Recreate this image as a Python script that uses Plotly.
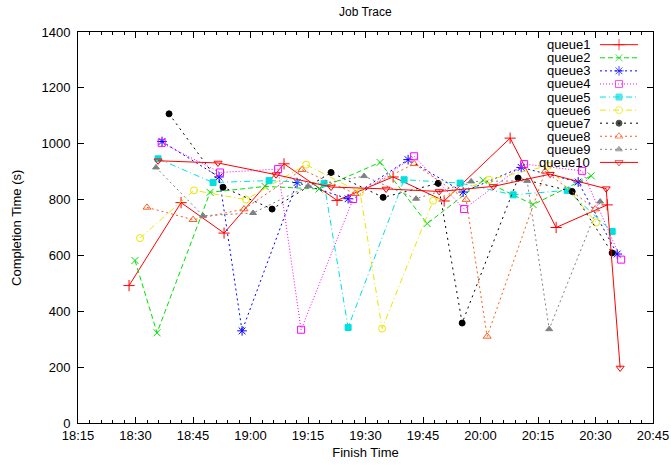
import plotly.graph_objects as go

DAY = "2024-01-01 "

series_names = ["queue1", "queue2", "queue3", "queue4", "queue5",
                "queue6", "queue7", "queue8", "queue9", "queue10"]

q1_t = ["18:28:19", "18:41:53", "18:53:06", "19:08:45", "19:22:35", "19:37:12", "19:50:31", "20:07:44", "20:19:44", "20:33:03"]
q1_v = [492, 789, 680, 928, 797, 881, 795, 1020, 700, 781]

q2_t = ["18:29:52", "18:35:37", "18:49:27", "19:03:48", "19:17:53", "19:33:48", "19:46:05", "20:00:41", "20:13:44", "20:28:52"]
q2_v = [582, 323, 826, 847, 838, 933, 714, 869, 782, 885]

q3_t = ["18:36:55", "18:51:48", "18:57:48", "19:12:09", "19:25:28", "19:41:07", "19:55:28", "20:10:37", "20:25:29", "20:35:40"]
q3_v = [1008, 881, 330, 861, 803, 943, 827, 915, 863, 605]

q4_t = ["18:36:50", "18:52:03", "19:07:12", "19:13:12", "19:26:46", "19:42:41", "19:55:44", "20:11:23", "20:26:31", "20:36:42"]
q4_v = [1003, 897, 909, 334, 802, 955, 766, 927, 903, 585]

q5_t = ["18:35:53", "18:50:14", "19:04:51", "19:19:12", "19:25:28", "19:40:04", "19:54:41", "20:08:31", "20:22:37", "20:34:21"]
q5_v = [946, 861, 868, 858, 342, 871, 859, 817, 833, 686]

q6_t = ["18:31:11", "18:45:16", "18:58:50", "19:14:30", "19:28:35", "19:34:20", "19:47:38", "20:02:15", "20:17:39", "20:30:11"]
q6_v = [662, 833, 800, 925, 826, 338, 796, 871, 921, 718]

q7_t = ["18:38:45", "18:52:50", "19:05:38", "19:21:01", "19:34:36", "19:48:57", "19:55:13", "20:09:49", "20:23:55", "20:34:21"]
q7_v = [1107, 844, 766, 897, 808, 858, 358, 877, 829, 609]

q8_t = ["18:33:00", "18:45:01", "18:58:19", "19:13:27", "19:27:17", "19:42:41", "19:56:15", "20:01:44", "20:16:52", "20:29:55"]
q8_v = [772, 728, 766, 907, 821, 928, 800, 310, 901, 766]

q9_t = ["18:35:21", "18:47:37", "19:00:40", "19:15:01", "19:29:38", "19:43:12", "19:57:34", "20:12:10", "20:17:55", "20:31:13"]
q9_v = [915, 742, 752, 848, 884, 803, 865, 867, 336, 793]

q10_t = ["18:35:53", "18:51:32", "19:06:40", "19:21:01", "19:35:23", "19:49:13", "20:03:18", "20:18:10", "20:32:47", "20:36:26"]
q10_v = [939, 931, 889, 845, 838, 829, 847, 891, 839, 197]

times = [q1_t, q2_t, q3_t, q4_t, q5_t, q6_t, q7_t, q8_t, q9_t, q10_t]
values = [q1_v, q2_v, q3_v, q4_v, q5_v, q6_v, q7_v, q8_v, q9_v, q10_v]

colors = ["#ff0000", "#00e000", "#0000ff", "#ff00ff", "#00e0e0",
          "#e8e800", "#000000", "#ff5a1e", "#808080", "#ff0000"]
symbols = ["cross-thin-open", "x-thin-open", "asterisk-open", "square-open", "square",
           "circle-open", "circle", "triangle-up-open", "triangle-up", "triangle-down-open"]
dashes = ["solid", "5px,3px", "2px,3px", "1px,2px", "6px,3px,1px,3px",
          "6px,3px,1px,3px", "2px,4px", "2px,3px", "2px,3px", "solid"]
msizes = [8, 7, 8, 7, 6, 7, 6, 7, 6, 7]

fig = go.Figure()

for name, t, v, c, s, d, ms in zip(series_names, times, values, colors, symbols, dashes, msizes):
    fig.add_trace(go.Scatter(
        x=[DAY + tt for tt in t], y=v, name=name, mode="lines+markers",
        line=dict(color=c, width=1, dash=d),
        marker=dict(symbol=s, size=ms, color=c, line=dict(color=c, width=1)),
        showlegend=False, xaxis="x", yaxis="y",
    ))

# custom gnuplot-style legend (text right-aligned, key sample to the right)
LEG_TOP = 45
LEG_STEP = 13.08
annotations = []
for i, (name, c, s, d, ms) in enumerate(zip(series_names, colors, symbols, dashes, msizes)):
    yy = LEG_TOP + i * LEG_STEP
    fig.add_trace(go.Scatter(
        x=[600, 619, 638], y=[yy, yy, yy], mode="lines+markers",
        line=dict(color=c, width=1, dash=d),
        marker=dict(symbol=s, size=[0, ms, 0], color=c, line=dict(color=c, width=1)),
        showlegend=False, hoverinfo="skip", xaxis="x2", yaxis="y2",
    ))
    annotations.append(dict(
        x=592, y=yy, xref="x2", yref="y2", text=name, showarrow=False,
        xanchor="right", yanchor="middle", font=dict(size=13, color="black"),
    ))

annotations.append(dict(text="Job Trace", x=0.5, y=1.052, xref="paper", yref="paper",
                        showarrow=False, font=dict(size=12), xanchor="center", yanchor="middle"))
annotations.append(dict(text="Completion Time (s)", x=-0.107, y=0.5, xref="paper", yref="paper",
                        showarrow=False, font=dict(size=13), textangle=-90,
                        xanchor="center", yanchor="middle"))

fig.update_layout(
    width=671, height=466,
    margin=dict(l=78, r=18, t=32, b=43, autoexpand=False),
    paper_bgcolor="white", plot_bgcolor="white",
    font=dict(family="Liberation Sans, Arial, sans-serif", size=13, color="black"),
    annotations=annotations,
    xaxis=dict(
        type="date",
        range=[DAY + "18:15:00", DAY + "20:45:00"],
        tickformat="%H:%M", dtick=900000, tick0=DAY + "18:15:00",
        ticks="inside", ticklen=6, tickwidth=1, tickcolor="black",
        minor=dict(dtick=180000, ticks="inside", ticklen=3, tickcolor="black", showgrid=False),
        showline=True, linecolor="black", linewidth=1, mirror="allticks",
        showgrid=False, zeroline=False, automargin=False,
        title=dict(text="Finish Time", standoff=6, font=dict(size=13)),
    ),
    yaxis=dict(
        range=[0, 1400], dtick=200,
        ticks="inside", ticklen=6, tickwidth=1, tickcolor="black",
        showline=True, linecolor="black", linewidth=1, mirror="allticks",
        showgrid=False, zeroline=False, automargin=False,
        ticklabelstandoff=4,
    ),
    xaxis2=dict(overlaying="x", anchor="y2", range=[78, 653], visible=False, fixedrange=True),
    yaxis2=dict(overlaying="y", anchor="x2", range=[423.3, 32.3], visible=False, fixedrange=True),
)

fig.write_html("out.html", config={"displayModeBar": False},
               post_script="document.body.style.margin='0';document.body.style.overflow='hidden';")
